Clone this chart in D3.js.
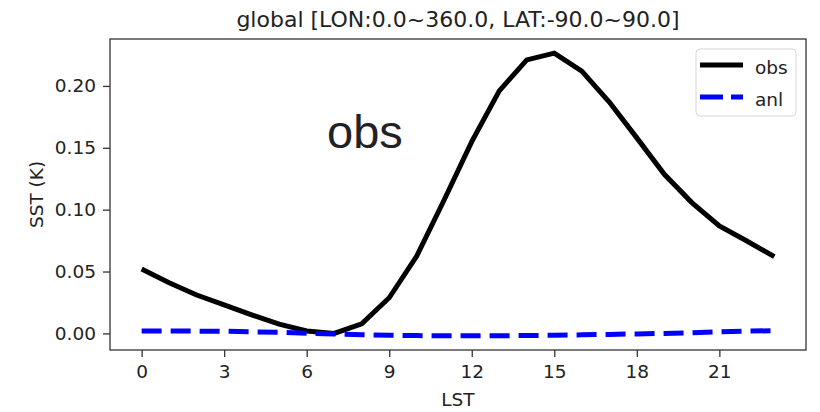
<!DOCTYPE html>
<html>
<head>
<meta charset="utf-8">
<script src="https://cdn.jsdelivr.net/npm/d3@7"></script>
<style>
  body { margin: 0; background: #fff; }
  text { font-family: "DejaVu Sans", sans-serif; fill: #222; }
</style>
</head>
<body>
<svg class="chart"></svg>
<script>
var hours = d3.range(0, 24);
var obs = [0.052, 0.041, 0.031, 0.023, 0.015, 0.0075, 0.002, 0.0, 0.0078, 0.0288,
           0.0625, 0.108, 0.155, 0.196, 0.221, 0.2265, 0.212, 0.187, 0.158, 0.1286,
           0.1057, 0.0868, 0.0747, 0.062];
var anl = [0.002, 0.002, 0.0018, 0.0017, 0.0013, 0.0008, 0.0002, -0.0004, -0.001, -0.0015,
           -0.0018, -0.002, -0.002, -0.0019, -0.0017, -0.0015, -0.0012, -0.0008, -0.0004, 0.0,
           0.0005, 0.0012, 0.0018, 0.0022];
var xTicks = [0, 3, 6, 9, 12, 15, 18, 21];
var yTicks = [0, 0.05, 0.10, 0.15, 0.20];

var margin = {top: 39, right: 14, bottom: 62, left: 110},
    width = 820 - margin.left - margin.right,
    height = 412 - margin.top - margin.bottom;

var chart = d3.select(".chart")
    .attr("width", 820)
    .attr("height", 412);

// matplotlib style 5% padding
var xPad = (d3.max(hours) - d3.min(hours)) * 0.05;
var x = d3.scaleLinear()
    .domain([d3.min(hours) - xPad, d3.max(hours) + xPad])
    .range([margin.left, margin.left + width]);

var all = obs.concat(anl);
var yMin = d3.min(all), yMax = d3.max(all), yPad = (yMax - yMin) * 0.05;
var y = d3.scaleLinear()
    .domain([yMin - yPad, yMax + yPad])
    .range([margin.top + height, margin.top]);

var xAxis = d3.axisBottom(x).tickValues(xTicks).tickSize(7).tickPadding(8);
var yAxis = d3.axisLeft(y).tickValues(yTicks).tickSize(7).tickPadding(7)
    .tickFormat(d3.format(".2f"));

var gx = chart.append("g")
    .attr("transform", "translate(0," + (margin.top + height) + ")")
    .call(xAxis);
var gy = chart.append("g")
    .attr("transform", "translate(" + margin.left + ",0)")
    .call(yAxis);
[gx, gy].forEach(function(g) {
  g.select(".domain").remove();
  g.selectAll(".tick line").attr("stroke", "#333").attr("stroke-width", 1.3);
  g.selectAll(".tick text").style("font-family", "DejaVu Sans").style("font-size", "18.5px").attr("fill", "#222");
});

var line = d3.line()
    .x(function(d, i) { return x(hours[i]); })
    .y(function(d) { return y(d); });

chart.append("path")
    .datum(obs)
    .attr("fill", "none")
    .attr("stroke", "#000")
    .attr("stroke-width", 5)
    .attr("d", line);

chart.append("path")
    .datum(anl)
    .attr("fill", "none")
    .attr("stroke", "#0000ff")
    .attr("stroke-width", 5)
    .attr("stroke-dasharray", "20,9")
    .attr("d", line);

// frame
chart.append("rect")
    .attr("x", margin.left)
    .attr("y", margin.top)
    .attr("width", width)
    .attr("height", height)
    .attr("fill", "none")
    .attr("stroke", "#333")
    .attr("stroke-width", 1.3);

chart.append("text")
    .attr("x", margin.left + width / 2)
    .attr("y", 27)
    .attr("text-anchor", "middle")
    .style("font-size", "22px")
    .text("global [LON:0.0~360.0, LAT:-90.0~90.0]");

chart.append("text")
    .attr("x", margin.left + width / 2)
    .attr("y", 406)
    .attr("text-anchor", "middle")
    .style("font-size", "18.5px")
    .text("LST");

chart.append("text")
    .attr("transform", "translate(43," + (margin.top + height / 2) + ") rotate(-90)")
    .attr("text-anchor", "middle")
    .style("font-size", "18.5px")
    .text("SST (K)");

chart.append("text")
    .attr("x", 327)
    .attr("y", 148)
    .style("font-family", "Liberation Sans, Arial, sans-serif")
    .style("font-size", "47px")
    .attr("fill", "#000")
    .text("obs");

// legend
var legend = chart.append("g").attr("transform", "translate(696,49)");
legend.append("rect")
    .attr("width", 100)
    .attr("height", 67)
    .attr("rx", 4)
    .attr("fill", "#fff")
    .attr("fill-opacity", 0.8)
    .attr("stroke", "#d6d6d6");
var items = [{name: "obs", color: "#000", dash: null},
             {name: "anl", color: "#0000ff", dash: "23,8"}];
items.forEach(function(it, i) {
  var yy = 16 + i * 32;
  legend.append("line")
      .attr("x1", 4).attr("x2", 47)
      .attr("y1", yy).attr("y2", yy)
      .attr("stroke", it.color)
      .attr("stroke-width", 5)
      .attr("stroke-dasharray", it.dash);
  legend.append("text")
      .attr("x", 59)
      .attr("y", yy + 9)
      .style("font-size", "18.5px")
      .text(it.name);
});
</script>
</body>
</html>
